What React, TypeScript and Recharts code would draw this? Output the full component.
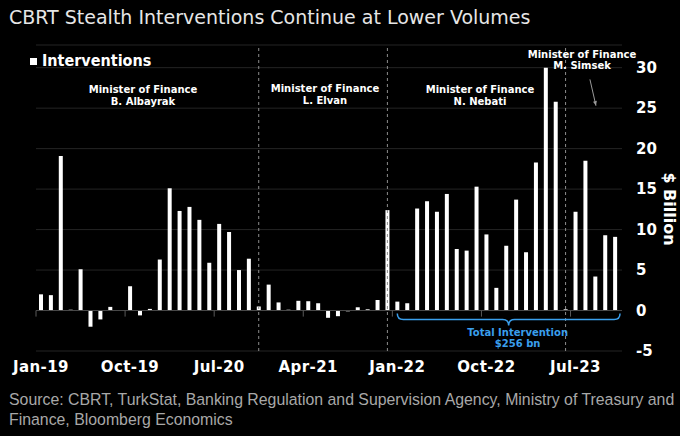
import React from 'react';
import { BarChart, Bar, XAxis, YAxis, CartesianGrid, ReferenceLine } from 'recharts';

const MONTHS = [
  'Jan-19', 'Feb-19', 'Mar-19', 'Apr-19', 'May-19', 'Jun-19', 'Jul-19', 'Aug-19', 'Sep-19', 'Oct-19', 'Nov-19', 'Dec-19',
  'Jan-20', 'Feb-20', 'Mar-20', 'Apr-20', 'May-20', 'Jun-20', 'Jul-20', 'Aug-20', 'Sep-20', 'Oct-20', 'Nov-20', 'Dec-20',
  'Jan-21', 'Feb-21', 'Mar-21', 'Apr-21', 'May-21', 'Jun-21', 'Jul-21', 'Aug-21', 'Sep-21', 'Oct-21', 'Nov-21', 'Dec-21',
  'Jan-22', 'Feb-22', 'Mar-22', 'Apr-22', 'May-22', 'Jun-22', 'Jul-22', 'Aug-22', 'Sep-22', 'Oct-22', 'Nov-22', 'Dec-22',
  'Jan-23', 'Feb-23', 'Mar-23', 'Apr-23', 'May-23', 'Jun-23', 'Jul-23', 'Aug-23', 'Sep-23', 'Oct-23', 'Nov-23',
];

// $ billion per month
const INTERVENTIONS = [
  2.0, 1.9, 19.1, 0.1, 5.1, -2.0, -1.1, 0.45, 0, 3.0, -0.6, 0.2,
  6.3, 15.1, 12.3, 12.8, 11.2, 5.9, 10.7, 9.7, 5.0, 6.4, 0.5, 3.2,
  1.0, 0.1, 1.2, 1.15, 0.9, -0.9, -0.7, -0.1, 0.4, 0.15, 1.3, 12.4,
  1.1, 0.9, 12.6, 13.5, 12.2, 14.4, 7.6, 7.4, 15.3, 9.4, 2.8, 8.0,
  13.7, 7.2, 18.3, 30.0, 25.8, 0.15, 12.2, 18.5, 4.2, 9.3, 9.1,
];

const TICK_MONTHS = ['Jan-19', 'Oct-19', 'Jul-20', 'Apr-21', 'Jan-22', 'Oct-22', 'Jul-23'];
const Y_TICKS = [-5, 0, 5, 10, 15, 20, 25, 30];
const MINISTER_CHANGES = ['Nov-20', 'Dec-21', 'Jun-23'];
const BRACE_FROM = 'Jan-22';
const BRACE_TO = 'Nov-23';
const TOTAL_LABEL = ['Total Intervention', '$256 bn'];

const data = MONTHS.map((m, i) => ({ idx: i, month: m, value: INTERVENTIONS[i] }));
const idxOf = (m: string) => MONTHS.indexOf(m);

const COND = "'DejaVu Sans Condensed', 'DejaVu Sans', sans-serif";
const SANS = "'DejaVu Sans', sans-serif";
const BLUE = '#3a9fec';

const Brace = (p: any) => {
  const { x1, x2, y1 } = p;
  const xm = (x1 + x2) / 2;
  const d = `M${x1},${y1 - 6} Q${x1},${y1} ${x1 + 6},${y1} L${xm - 6},${y1} Q${xm},${y1} ${xm},${y1 + 6} Q${xm},${y1} ${xm + 6},${y1} L${x2 - 6},${y1} Q${x2},${y1} ${x2},${y1 - 6}`;
  return (
    <g>
      <path d={d} fill="none" stroke={BLUE} strokeWidth={1.5} />
      {TOTAL_LABEL.map((t, i) => (
        <text key={t} x={xm + 9} y={y1 + 17 + i * 11} textAnchor="middle" fill={BLUE}
          fontFamily={SANS} fontWeight={700} fontSize={10}>{t}</text>
      ))}
    </g>
  );
};

const Arrow = (p: any) => {
  const { x1, y1, x2, y2 } = p;
  const a = Math.atan2(y2 - y1, x2 - x1);
  const h = 5;
  const pts = [
    [x2, y2],
    [x2 - h * Math.cos(a - 0.4), y2 - h * Math.sin(a - 0.4)],
    [x2 - h * Math.cos(a + 0.4), y2 - h * Math.sin(a + 0.4)],
  ].map((q) => q.join(',')).join(' ');
  return (
    <g>
      <line x1={x1} y1={y1} x2={x2} y2={y2} stroke="#9a9a9a" strokeWidth={1} />
      <polygon points={pts} fill="#9a9a9a" />
    </g>
  );
};

const ministerText = { fill: '#fff', fontFamily: SANS, fontWeight: 700, fontSize: 10, textAnchor: 'middle' as const };

export default function App() {
  return (
    <div style={{ position: 'absolute', left: 0, top: 0, width: 680, height: 436, background: '#000', overflow: 'hidden' }}>
      <BarChart width={680} height={436} data={data} margin={{ top: 45, right: 8, bottom: 45, left: 36 }}>
        <CartesianGrid vertical={false} stroke="#242424" />
        <XAxis dataKey="idx" type="number" domain={[-0.5, 58.7]} ticks={TICK_MONTHS.map(idxOf)}
          tickFormatter={(v: number) => MONTHS[v]} axisLine={false} tickLine={false} tickSize={0} tickMargin={10}
          height={40} tick={{ fill: '#fff', fontSize: 15, fontWeight: 700, fontFamily: SANS, letterSpacing: 0.4 }} />
        <YAxis orientation="right" domain={[-5, 32.8]} ticks={Y_TICKS} allowDataOverflow axisLine={false}
          tickLine={false} tickSize={0} tickMargin={14} width={50}
          tick={{ fill: '#fff', fontSize: 15, fontWeight: 700, fontFamily: SANS, textAnchor: 'start' }} />
        <ReferenceLine y={0} stroke="#4a4a4a" />
        {TICK_MONTHS.map((m) => (
          <ReferenceLine key={m} segment={[{ x: idxOf(m) - 0.5, y: 0 }, { x: idxOf(m) - 0.5, y: -0.75 }]} stroke="#5a5a5a" />
        ))}
        <Bar dataKey="value" fill="#ffffff" barSize={4} isAnimationActive={false} />
        {MINISTER_CHANGES.map((m) => (
          <ReferenceLine key={m} x={idxOf(m)} stroke="#8c8c8c" strokeDasharray="3 3" />
        ))}
        <ReferenceLine segment={[{ x: idxOf(BRACE_FROM), y: -1.1 }, { x: idxOf(BRACE_TO) + 0.5, y: -1.1 }]} shape={Brace} />
        <ReferenceLine segment={[{ x: 55.46, y: 28.55 }, { x: 56.07, y: 25.3 }]} shape={Arrow} />
      </BarChart>
      <svg width={680} height={436} style={{ position: 'absolute', left: 0, top: 0, pointerEvents: 'none' }}>
        <text x={9} y={24} fill="#e6e6e6" fontFamily={SANS} fontSize={19}>
          CBRT Stealth Interventions Continue at Lower Volumes
        </text>
        <rect x={30} y={58} width={7} height={7} fill="#fff" />
        <text x={42} y={66} fill="#fff" fontFamily={COND} fontStretch="condensed" fontWeight={700} fontSize={16}>Interventions</text>
        <text x={143} y={93} {...ministerText}>Minister of Finance</text>
        <text x={143} y={105} {...ministerText}>B. Albayrak</text>
        <text x={325} y={92} {...ministerText}>Minister of Finance</text>
        <text x={325} y={104} {...ministerText}>L. Elvan</text>
        <text x={480} y={93} {...ministerText}>Minister of Finance</text>
        <text x={480} y={105} {...ministerText}>N. Nebati</text>
        <text x={582} y={58} {...ministerText}>Minister of Finance</text>
        <text x={582} y={69} {...ministerText}>M. Simsek</text>
        <text x={0} y={0} transform="translate(664,209) rotate(90)" textAnchor="middle" fill="#fff"
          fontFamily={SANS} fontWeight={700} fontSize={16}>$ Billion</text>
        <text x={9} y={405} fill="#a8a8a8" fontFamily="'Liberation Sans Narrow', sans-serif" fontSize={15.85}>
          Source: CBRT, TurkStat, Banking Regulation and Supervision Agency, Ministry of Treasury and
        </text>
        <text x={9} y={425} fill="#a8a8a8" fontFamily="'Liberation Sans Narrow', sans-serif" fontSize={15.85}>
          Finance, Bloomberg Economics
        </text>
      </svg>
    </div>
  );
}
